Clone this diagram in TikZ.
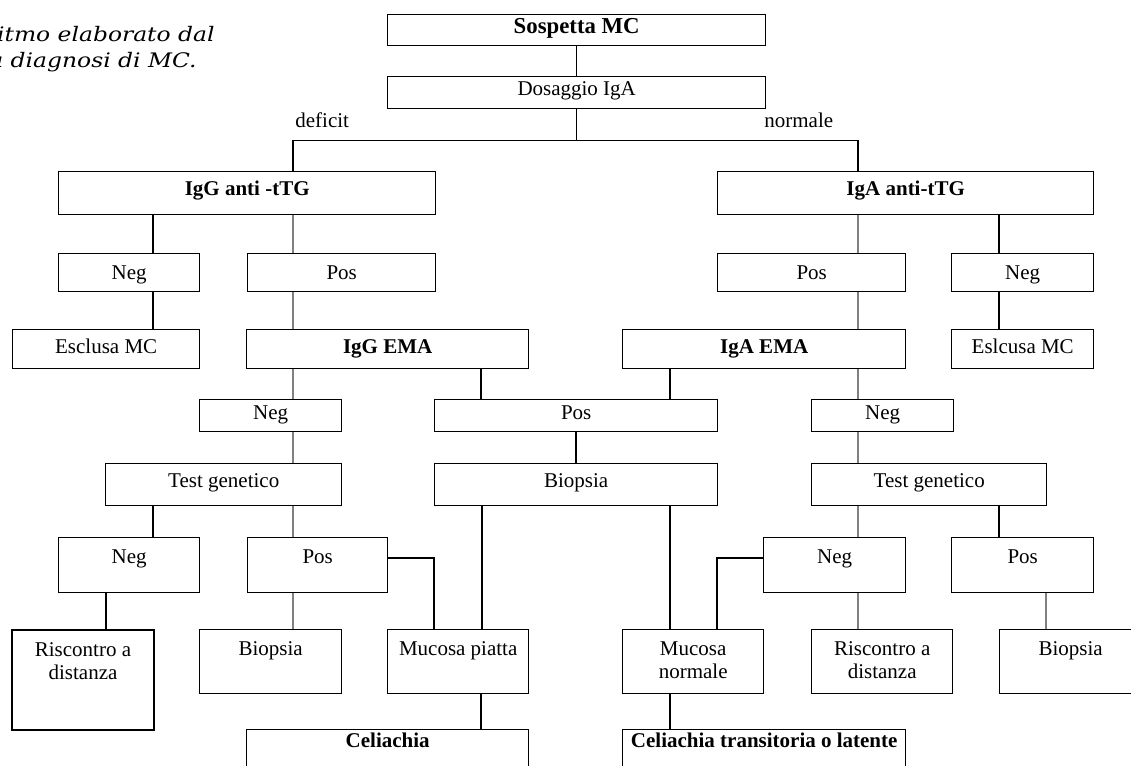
\documentclass[tikz,border=0pt]{standalone}
\usepackage{fontspec}
\setmainfont{Liberation Serif}
\newfontfamily\capfont[FakeStretch=1.17]{DejaVu Serif}
\usetikzlibrary{positioning}

\begin{document}
\begin{tikzpicture}[%
    x=0.5pt, y=-0.5pt,
    font=\fontsize{10.5}{11.5}\selectfont,
    box/.style={draw, line width=0.7pt, anchor=north west, inner sep=0pt, align=center},
    hd/.style={font=\fontsize{10.5}{11.5}\selectfont\bfseries},
    tierA/.style={text height=9.5pt, text depth=6.5pt},
    tierB/.style={text height=12pt, text depth=9.5pt},
    tierC/.style={text height=13pt, text depth=6pt},
    tierD/.style={text height=12pt, text depth=7.5pt},
    tierE/.style={text height=10pt, text depth=6pt},
    tierF/.style={text height=12pt, text depth=9pt},
    tierG/.style={text height=13pt, text depth=14.5pt},
    tierH/.style={text height=13pt, text depth=19pt},
    twoline/.style={text height=24.5pt, text depth=7.5pt},
    tierI/.style={text height=9pt, text depth=21pt},
    link/.style={line width=0.75pt},
    glink/.style={line width=0.6pt, gray}
  ]
  \useasboundingbox (0,0) rectangle (1131,766);
  \clip (0,0) rectangle (1131,766);

  % caption, cut at the left border
  \node[anchor=base east, inner sep=0pt, font=\capfont\itshape\fontsize{10}{12}\selectfont] (cap1) at (215,41) {itmo elaborato dal};
  \node[anchor=base east, inner sep=0pt, font=\capfont\itshape\fontsize{10}{12}\selectfont] (cap2) at (197,67) {a diagnosi di MC.};

  % top
  \node[box, tierA, text depth=6pt, minimum width=189pt, font=\fontsize{11.4}{12}\selectfont\bfseries] (S) at (387,14) {Sospetta MC};
  \node[box, tierA, minimum width=189pt] (D) at (387,76) {Dosaggio IgA};
  \node[anchor=base west, inner sep=0pt] (def) at (295,127) {deficit};
  \node[anchor=base west, inner sep=0pt] (norm) at (764,127) {normale};

  % IgG branch
  \node[box, hd, tierB, minimum width=188.5pt] (Gt) at (58,171) {IgG anti -tTG};
  \node[box, tierC, minimum width=70.5pt] (GN) at (58,253) {Neg};
  \node[box, tierC, minimum width=94pt] (GP) at (247,253) {Pos};
  \node[box, tierD, minimum width=93.5pt] (GX) at (12,329) {Esclusa MC};
  \node[box, hd, tierD, minimum width=141pt] (GE) at (246,329) {IgG EMA};

  % IgA branch
  \node[box, hd, tierB, minimum width=188pt] (At) at (717,171) {IgA anti-tTG};
  \node[box, tierC, minimum width=94pt] (AP) at (717,253) {Pos};
  \node[box, tierC, minimum width=71pt] (AN) at (951,253) {Neg};
  \node[box, hd, tierD, minimum width=141.5pt] (AE) at (622,329) {IgA EMA};
  \node[box, tierD, minimum width=71pt] (AX) at (951,329) {Eslcusa MC};

  % EMA results
  \node[box, tierE, minimum width=71pt] (N1) at (199,399) {Neg};
  \node[box, tierE, minimum width=141.5pt] (P1) at (434,399) {Pos};
  \node[box, tierE, minimum width=71pt] (N2) at (811,399) {Neg};

  \node[box, tierF, minimum width=118pt] (T1) at (105,463) {Test genetico};
  \node[box, tierF, minimum width=141.5pt] (B1) at (434,463) {Biopsia};
  \node[box, tierF, minimum width=117.5pt] (T2) at (811,463) {Test genetico};

  \node[box, tierG, minimum width=70.5pt] (N3) at (58,537) {Neg};
  \node[box, tierG, minimum width=70pt] (P3) at (247,537) {Pos};
  \node[box, tierG, minimum width=71pt] (N4) at (763,537) {Neg};
  \node[box, tierG, minimum width=71pt] (P4) at (951,537) {Pos};

  \node[box, line width=1pt, twoline, text depth=25.5pt, minimum width=71pt] (R1) at (11,629) {Riscontro a\\distanza};
  \node[box, tierH, minimum width=71pt] (B2) at (199,629) {Biopsia};
  \node[box, tierH, minimum width=70.5pt] (MP) at (387,629) {Mucosa piatta};
  \node[box, twoline, minimum width=70.5pt] (MN) at (622,629) {Mucosa\\normale};
  \node[box, twoline, minimum width=70.5pt] (R2) at (811,629) {Riscontro a\\distanza};
  \node[box, tierH, minimum width=71pt] (B3) at (999,629) {Biopsia};

  \node[box, hd, tierI, minimum width=141pt] (C1) at (246,729) {Celiachia};
  \node[box, hd, tierI, minimum width=141.5pt] (C2) at (622,729) {Celiachia transitoria o latente};

  % connectors
  \draw[link] (S) -- (D);
  \draw[link] (D.south) -- ++(0,31) coordinate (bus);
  \draw[link] (Gt.north -| 293,0) |- (bus) -| (At.north -| 858,0);

  \path[link]
      (Gt.south -| 153,0) edge (GN.north -| 153,0)
      (GN.south -| 153,0) edge (GX.north -| 153,0)
      (At.south -| 999,0) edge (AN.north -| 999,0)
      (AN.south -| 999,0) edge (AX.north -| 999,0)
      (GE.south -| 481,0) edge (P1.north -| 481,0)
      (AE.south -| 670,0) edge (P1.north -| 670,0)
      (P1) edge (B1)
      (T1.south -| 153,0) edge (N3.north -| 153,0)
      (T2.south -| 999,0) edge (P4.north -| 999,0)
      (N3.south -| 106,0) edge (R1.north -| 106,0)
      (B1.south -| 482,0) edge (MP.north -| 482,0)
      (B1.south -| 670,0) edge (MN.north -| 670,0)
      (MP.south -| 481,0) edge (C1.north -| 481,0)
      (MN.south -| 670,0) edge (C2.north -| 670,0);

  \path[glink]
      (Gt.south -| 293,0) edge (GP.north -| 293,0)
      (GP.south -| 293,0) edge (GE.north -| 293,0)
      (At.south -| 858,0) edge (AP.north -| 858,0)
      (AP.south -| 858,0) edge (AE.north -| 858,0)
      (GE.south -| 293,0) edge (N1.north -| 293,0)
      (AE.south -| 858,0) edge (N2.north -| 858,0)
      (N1.south -| 293,0) edge (T1.north -| 293,0)
      (N2.south -| 858,0) edge (T2.north -| 858,0)
      (T1.south -| 293,0) edge (P3.north -| 293,0)
      (T2.south -| 858,0) edge (N4.north -| 858,0)
      (P3.south -| 293,0) edge (B2.north -| 293,0)
      (N4.south -| 858,0) edge (R2.north -| 858,0)
      (P4.south -| 1046,0) edge (B3.north -| 1046,0);

  \draw[link] (P3.east |- 0,558) -| (MP.north -| 434,0);
  \draw[link] (N4.west |- 0,558) -| (MN.north -| 717,0);
\end{tikzpicture}
\end{document}
